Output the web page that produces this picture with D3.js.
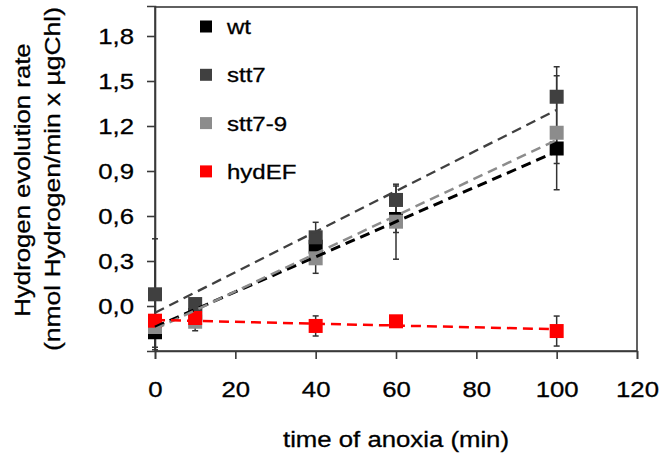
<!DOCTYPE html>
<html>
<head>
<meta charset="utf-8">
<script src="https://cdn.jsdelivr.net/npm/d3@7"></script>
<style>
  html, body { margin: 0; padding: 0; background: #fff; }
  svg { display: block; }
  text { font-family: "Liberation Sans", Arial, sans-serif; fill: #000; }
</style>
</head>
<body>
<svg id="chart" width="666" height="466"></svg>
<script>
// ---- data ----
const seriesNames = ["wt", "stt7", "stt7-9", "hydEF"];
const seriesColors = ["#000000", "#404040", "#8c8c8c", "#ff0000"];
const timeValues = [0, 10, 40, 60, 100];

const wtValues    = [-0.175, -0.06, 0.395, 0.58, 1.05];
const stt7Values  = [0.078, 0.013, 0.458, 0.707, 1.395];
const stt79Values = [-0.14, -0.105, 0.318, 0.562, 1.155];
const hydEFValues = [-0.098, -0.08, -0.133, -0.102, -0.167];

const wtErrors    = [0.10, 0.0, 0.0, 0.09, 0.10];
const stt7Errors  = [0.37, 0.0, 0.10, 0.093, 0.20];
const stt79Errors = [0.0, 0.06, 0.10, 0.25, 0.38];
const hydEFErrors = [0.0, 0.0, 0.067, 0.0, 0.10];

// fitted trend lines (value at time 0 and at time 100)
const fitTimes     = [0, 100];
const wtFit        = [-0.14, 1.03];
const stt7Fit      = [-0.045, 1.307];
const stt79Fit     = [-0.155, 1.107];
const hydEFFit     = [-0.093, -0.155];

const xTickValues = [0, 20, 40, 60, 80, 100, 120];
const yTickValues = [0, 0.3, 0.6, 0.9, 1.2, 1.5, 1.8];

const xTitle = "time of anoxia (min)";
const yTitle1 = "Hydrogen evolution rate";
const yTitle2 = "(nmol Hydrogen/min x µgChl)";

// ---- chart ----
const svg = d3.select("#chart");
const mLeft = 155, mRight = 637, mTop = 7, mBottom = 351;
const stretch = 1.17;

const x = d3.scaleLinear().domain([0, 120]).range([mLeft, mRight]);
const y = d3.scaleLinear().domain([-0.3, 2.0]).range([mBottom, mTop - 1]);

const axisColor = "#3a3a3a";

function widen(sel, k) {
  sel.each(function () {
    const len = this.getComputedTextLength();
    d3.select(this).attr("textLength", len * k).attr("lengthAdjust", "spacingAndGlyphs");
  });
  sel.attr("stroke", "#000").attr("stroke-width", 0.3);
}

// frame
svg.append("rect")
  .attr("x", mLeft).attr("y", mTop)
  .attr("width", mRight - mLeft).attr("height", mBottom - mTop)
  .attr("fill", "none").attr("stroke", axisColor).attr("stroke-width", 1.6);

const fmt = d => d3.format(".1f")(d).replace(".", ",");

const xAxis = svg.append("g")
  .attr("transform", `translate(0,${mBottom})`)
  .call(d3.axisBottom(x).tickValues(xTickValues).tickSize(8).tickPadding(22).tickFormat(d3.format("d")));
const yAxis = svg.append("g")
  .attr("transform", `translate(${mLeft},0)`)
  .call(d3.axisLeft(y).tickValues(yTickValues).tickSize(8).tickPadding(13).tickFormat(fmt));

[xAxis, yAxis].forEach(g => {
  g.select(".domain").attr("stroke", axisColor).attr("stroke-width", 1.6);
  g.selectAll(".tick line").attr("stroke", axisColor).attr("stroke-width", 1.6);
  g.selectAll(".tick text").attr("font-size", 22).attr("font-family", "Liberation Sans, Arial, sans-serif").attr("fill", "#000");
  widen(g.selectAll(".tick text"), stretch);
});

// axis titles
widen(svg.append("text")
  .attr("x", (mLeft + mRight) / 2).attr("y", 447)
  .attr("text-anchor", "middle").attr("font-size", 22)
  .text(xTitle), stretch);
widen(svg.append("text")
  .attr("transform", `translate(30,${(mTop + mBottom) / 2 + 1}) rotate(-90)`)
  .attr("text-anchor", "middle").attr("font-size", 22)
  .text(yTitle1), stretch);
widen(svg.append("text")
  .attr("transform", `translate(60,${(mTop + mBottom) / 2}) rotate(-90)`)
  .attr("text-anchor", "middle").attr("font-size", 22)
  .text(yTitle2), 1.2);

const allValues = [wtValues, stt7Values, stt79Values, hydEFValues];
const allErrors = [wtErrors, stt7Errors, stt79Errors, hydEFErrors];
const allFits = [wtFit, stt7Fit, stt79Fit, hydEFFit];

// error bars
const errColor = "#333333";
allValues.forEach((vals, si) => {
  const errs = allErrors[si];
  const g = svg.append("g");
  timeValues.forEach((t, i) => {
    const e = errs[i];
    if (!e) return;
    const cx = x(t);
    const y1 = y(vals[i] - e), y2 = y(vals[i] + e);
    g.append("line").attr("x1", cx).attr("x2", cx).attr("y1", y1).attr("y2", y2)
      .attr("stroke", errColor).attr("stroke-width", 1.5);
    [y1, y2].forEach(yy => g.append("line")
      .attr("x1", cx - 3).attr("x2", cx + 3).attr("y1", yy).attr("y2", yy)
      .attr("stroke", errColor).attr("stroke-width", 1.5));
  });
});

// markers
const ms = 14;
allValues.forEach((vals, si) => {
  svg.append("g").selectAll("rect")
    .data(timeValues.map((t, i) => ({ t, v: vals[i] })))
    .join("rect")
    .attr("x", d => x(d.t) - ms / 2)
    .attr("y", d => y(d.v) - ms / 2)
    .attr("width", ms).attr("height", ms)
    .attr("fill", seriesColors[si]);
});

// trend lines
const line = d3.line().x(d => x(d[0])).y(d => y(d[1]));
const lineWidths = [3, 2.3, 2.5, 2.5];
allFits.forEach((fit, si) => {
  svg.append("path")
    .attr("d", line(fitTimes.map((t, i) => [t, fit[i]])))
    .attr("fill", "none")
    .attr("stroke", seriesColors[si])
    .attr("stroke-width", lineWidths[si])
    .attr("stroke-dasharray", "10,6");
});

// legend
const legend = svg.append("g");
seriesNames.forEach((name, i) => {
  const ly = 26.5 + i * 48.3;
  legend.append("rect")
    .attr("x", 200).attr("y", ly - 6)
    .attr("width", 12).attr("height", 12)
    .attr("fill", seriesColors[i]);
  widen(legend.append("text")
    .attr("x", 227).attr("y", ly + 7.5)
    .attr("font-size", 20)
    .text(name), 1.2);
});
</script>
</body>
</html>
